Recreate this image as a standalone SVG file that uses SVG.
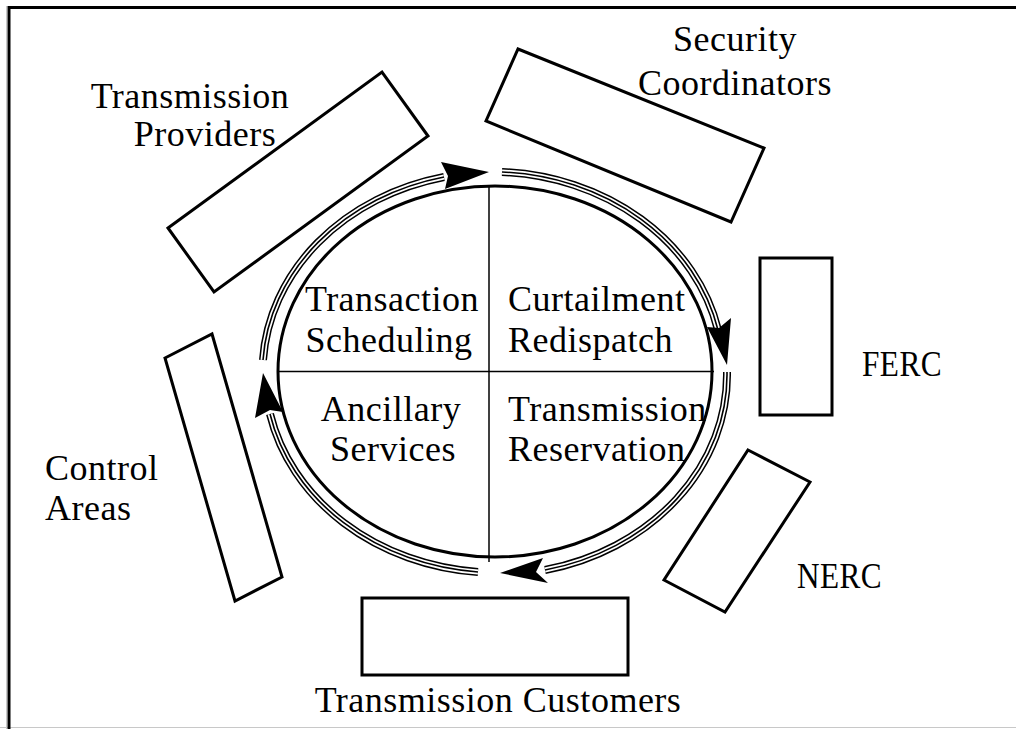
<svg xmlns="http://www.w3.org/2000/svg" width="1016" height="729" viewBox="0 0 1016 729">
<style>
.box{fill:#fff;stroke:#000;stroke-width:3}
.t{font-family:"Liberation Serif","Times New Roman",serif;font-size:36px;fill:#000;letter-spacing:0.5px}
.c{text-anchor:middle}
.r1{fill:none;stroke:#000;stroke-width:8}
.r2{fill:none;stroke:#fff;stroke-width:5}
.r3{fill:none;stroke:#000;stroke-width:1.6}
.ah{fill:#000;stroke:none}
</style>
<defs>
<path id="ringpath" d="M 263 360 A 232 200 0 0 1 444 177 M 502 172 A 232 200 0 0 1 718 330 M 727 372 A 232 200 0 0 1 545 570 M 478 572 A 232 200 0 0 1 270 414"/>
</defs>
<rect width="1016" height="729" fill="#fff"/>
<g id="frame">
<line x1="6.5" y1="6" x2="6.5" y2="729" stroke="#c8c8c8" stroke-width="1"/>
<line x1="0" y1="727.5" x2="1016" y2="727.5" stroke="#c8c8c8" stroke-width="1"/>
<line x1="9" y1="6" x2="9" y2="729" stroke="#000" stroke-width="3"/>
<line x1="8" y1="7.5" x2="1016" y2="7.5" stroke="#000" stroke-width="3"/>
</g>
<g id="center">
<ellipse cx="495" cy="371.5" rx="217" ry="185.5" fill="none" stroke="#000" stroke-width="3"/>
<line x1="489" y1="186" x2="489" y2="562" stroke="#000" stroke-width="1.5"/>
<line x1="277" y1="371.5" x2="714" y2="371.5" stroke="#000" stroke-width="1.5"/>
<text class="t c" x="392" y="311">Transaction</text>
<text class="t c" x="389" y="352">Scheduling</text>
<text class="t" x="508" y="311">Curtailment</text>
<text class="t" x="508" y="352">Redispatch</text>
<text class="t c" x="391" y="421">Ancillary</text>
<text class="t c" x="393" y="461">Services</text>
<text class="t" x="508" y="421">Transmission</text>
<text class="t" x="508" y="461">Reservation</text>
</g>
<g id="connectors">
<g id="ring">
<use href="#ringpath" class="r1"/>
<use href="#ringpath" class="r2"/>
<use href="#ringpath" class="r3"/>
</g>
<polygon class="ah" points="489,172 441,162 448,176 445,189"/>
<polygon class="ah" points="727,365 707,327 719,328 731,318"/>
<polygon class="ah" points="500,573 543,558 536,572 548,583"/>
<polygon class="ah" points="263,373 283,412 270,410 255,418"/>
</g>
<g id="transmission-providers">
<polygon class="box" points="168,228 382,72 428,136 214,292"/>
<text class="t c" x="190" y="108">Transmission</text>
<text class="t c" x="205" y="146">Providers</text>
</g>
<g id="security-coordinators">
<polygon class="box" points="518,49 764,148 731,222 486,121"/>
<text class="t c" x="735" y="51">Security</text>
<text class="t c" x="735" y="95">Coordinators</text>
</g>
<g id="ferc">
<rect class="box" x="760" y="258" width="72" height="157"/>
<text class="t" x="862" y="376" textLength="80" lengthAdjust="spacingAndGlyphs">FERC</text>
</g>
<g id="nerc">
<polygon class="box" points="748,450 810,482 725,612 664,580"/>
<text class="t" x="797" y="588" textLength="85" lengthAdjust="spacingAndGlyphs">NERC</text>
</g>
<g id="transmission-customers">
<rect class="box" x="362" y="598" width="266" height="77"/>
<text class="t c" x="498" y="712">Transmission Customers</text>
</g>
<g id="control-areas">
<polygon class="box" points="165,358 212,334 282,577 235,601"/>
<text class="t" x="45" y="480">Control</text>
<text class="t" x="45" y="520">Areas</text>
</g>
</svg>
